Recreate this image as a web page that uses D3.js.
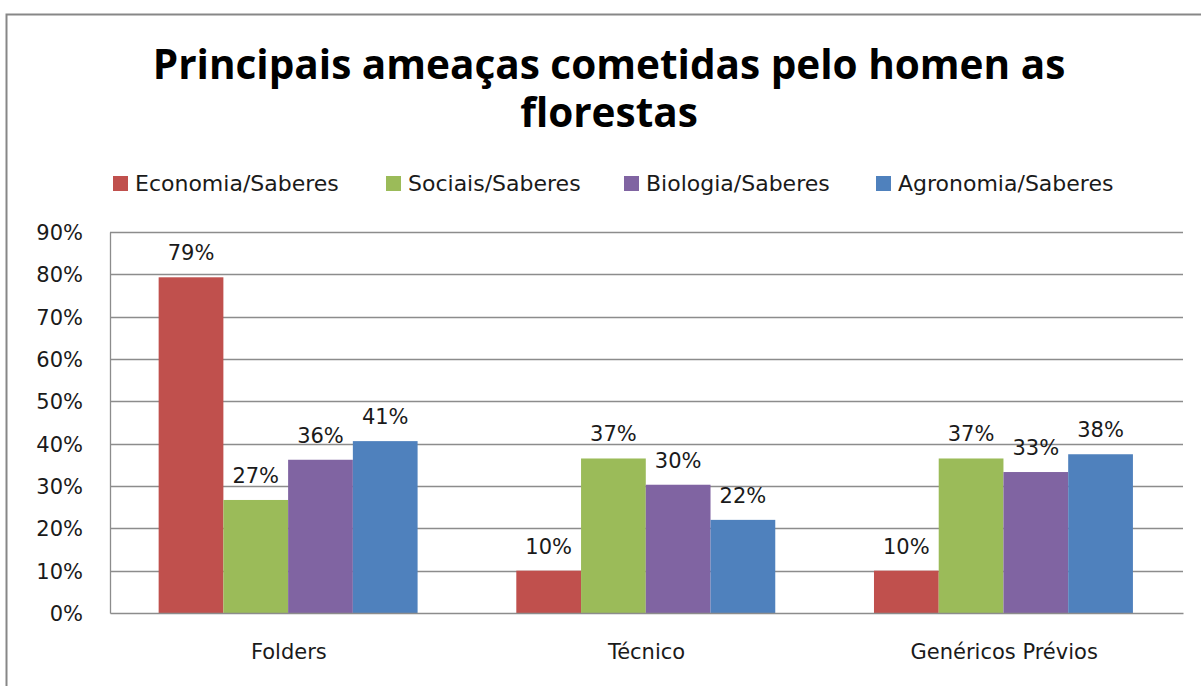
<!DOCTYPE html>
<html>
<head>
<meta charset="utf-8">
<script src="https://cdn.jsdelivr.net/npm/d3@7"></script>
<style>
  body { margin: 0; background: #fff; }
  svg text { font-family: "DejaVu Sans", "Noto Sans", sans-serif; fill: #1a1a1a; }
</style>
</head>
<body>
<div id="vis"></div>
<script>
// data
const categories = ["Folders", "Técnico", "Genéricos Prévios"];
const seriesNames = ["Economia/Saberes", "Sociais/Saberes", "Biologia/Saberes", "Agronomia/Saberes"];
const seriesColors = ["#C0504D", "#9BBB59", "#8064A2", "#4F81BD"];
const economia = [0.793, 0.10, 0.10];
const sociais = [0.267, 0.365, 0.365];
const biologia = [0.362, 0.303, 0.333];
const agronomia = [0.406, 0.22, 0.375];
const yTicks = [0, 0.1, 0.2, 0.3, 0.4, 0.5, 0.6, 0.7, 0.8, 0.9];
const titleLines = ["Principais ameaças cometidas pelo homen as", "florestas"];

const W = 1201, H = 686;
const margin = { top: 232, left: 110, right: 18, bottom: 73 };

const svg = d3.select("#vis").append("svg").attr("width", W).attr("height", H);

// outer chart border (only top and left edges show in the picture)
svg.append("rect")
    .attr("x", 6.5).attr("y", 14.5)
    .attr("width", 1210).attr("height", 700)
    .attr("fill", "none").attr("stroke", "#878787").attr("stroke-width", 2);

// title
svg.append("g").selectAll("text").data(titleLines).join("text")
    .attr("x", 609)
    .attr("y", (d, i) => 79 + i * 48)
    .attr("text-anchor", "middle")
    .style("font-family", "'Open Sans', sans-serif")
    .style("font-size", "40.5px").style("font-weight", "bold").style("fill", "#000")
    .text(d => d);

// legend
const legendX = [113, 386, 624, 876];
const legend = svg.append("g").selectAll("g").data(seriesNames).join("g")
    .attr("transform", (d, i) => `translate(${legendX[i]},176)`);
legend.append("rect").attr("width", 15).attr("height", 15).attr("fill", (d, i) => seriesColors[i]);
legend.append("text").attr("x", 22).attr("y", 15)
    .style("font-size", "22px").text(d => d);

const width = W - margin.left - margin.right;
const height = H - margin.top - margin.bottom;
const g = svg.append("g").attr("transform", `translate(${margin.left},${margin.top})`);

const x0 = d3.scaleBand().domain(categories).range([0, width]).paddingInner(0).paddingOuter(0);
const x1 = d3.scaleBand().domain(seriesNames).range([x0.bandwidth() * 0.136, x0.bandwidth() * 0.86]).padding(0);
const y = d3.scaleLinear().domain([0, 0.9]).range([height, 0]);

// gridlines
g.append("g").selectAll("line").data(yTicks.slice(1)).join("line")
    .attr("x1", 0).attr("x2", width)
    .attr("y1", d => Math.round(y(d)) + 0.5).attr("y2", d => Math.round(y(d)) + 0.5)
    .attr("stroke", "#8c8c8c").attr("stroke-width", 1.3);

// y axis
const yAxis = d3.axisLeft(y).tickValues(yTicks).tickFormat(d3.format(".0%")).tickSize(0).tickPadding(27);
const gy = g.append("g").call(yAxis);
gy.select(".domain").attr("stroke", "#8c8c8c").attr("stroke-width", 1.3);
gy.selectAll("text").style("font-size", "21px").attr("dy", "0.36em");

const rows = [economia, sociais, biologia, agronomia];
const bars = [];
categories.forEach((c, ci) => {
    seriesNames.forEach((s, si) => {
        bars.push({ cat: c, series: s, color: seriesColors[si], value: rows[si][ci] });
    });
});

g.append("g").selectAll("rect").data(bars).join("rect")
    .attr("x", d => x0(d.cat) + x1(d.series))
    .attr("width", x1.bandwidth())
    .attr("y", d => y(d.value))
    .attr("height", d => height - y(d.value))
    .attr("fill", d => d.color);

// value labels
g.append("g").selectAll("text").data(bars).join("text")
    .attr("x", d => x0(d.cat) + x1(d.series) + x1.bandwidth() / 2)
    .attr("y", d => y(d.value) - 17)
    .attr("text-anchor", "middle")
    .style("font-size", "21px")
    .text(d => Math.round(d.value * 100) + "%");

// x axis
const xAxis = d3.axisBottom(x0).tickSize(0).tickPadding(31);
const gx = g.append("g").attr("transform", `translate(0,${height})`).call(xAxis);
gx.select(".domain").attr("stroke", "#8c8c8c").attr("stroke-width", 1.3);
gx.selectAll("text").style("font-size", "21px");
</script>
</body>
</html>
